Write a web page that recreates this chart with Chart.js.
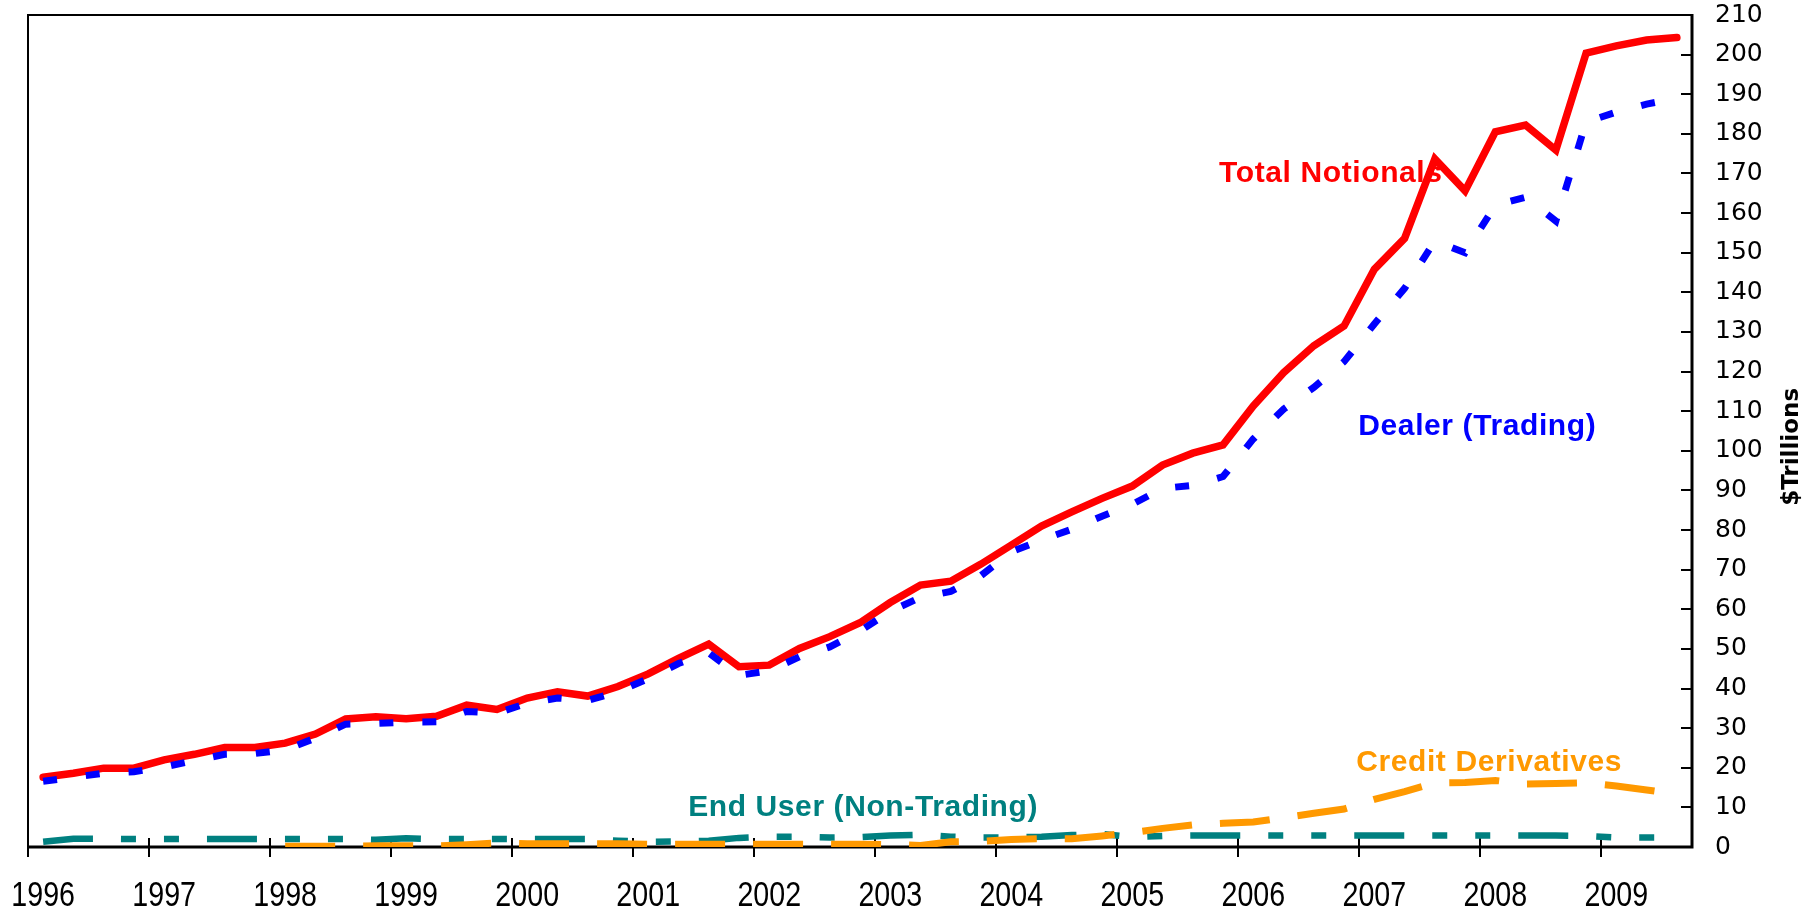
<!DOCTYPE html>
<html>
<head>
<meta charset="utf-8">
<title>Notional amounts of derivatives</title>
<script src="https://cdn.jsdelivr.net/npm/chart.js@4.4.1/dist/chart.umd.min.js"></script>
<style>
  html, body { margin: 0; padding: 0; background: #fff; }
  #wrap { width: 1808px; height: 908px; }
</style>
</head>
<body>
<div id="wrap"><canvas id="chart"></canvas></div>
<script>
// ============================================================
// Notionals by quarter, 1996 Q1 - 2009 Q3 ($ trillions)
// ============================================================

// ===== Categories / ticks =====
const years = [1996, 1997, 1998, 1999, 2000, 2001, 2002, 2003, 2004, 2005, 2006, 2007, 2008, 2009];
const quarters = ["Q1", "Q2", "Q3", "Q4"];
const lastYearQuarters = 3; // 2009 stops at Q3
const yTicks = [0, 10, 20, 30, 40, 50, 60, 70, 80, 90, 100, 110, 120, 130, 140, 150, 160, 170, 180, 190, 200, 210];

// ===== Series (one value per quarter) =====
const totalNotionals = [
  17.6, 18.6, 19.9, 19.9,
  22.0, 23.4, 25.1, 25.1,
  26.2, 28.5, 32.3, 32.9,
  32.4, 33.0, 35.8, 34.7,
  37.6, 39.2, 38.1, 40.5,
  43.7, 47.6, 51.2, 45.5,
  45.9, 50.1, 53.1, 56.6,
  61.7, 66.1, 67.1, 71.4,
  76.2, 81.0, 84.6, 88.0,
  91.1, 96.4, 99.4, 101.5,
  111.3, 119.7, 126.5, 131.5,
  145.8, 153.6, 173.7, 165.6,
  180.5, 182.2, 175.9, 200.4,
  202.2, 203.7, 204.3,
];

const dealerTrading = [
  16.6, 17.6, 18.6, 19.0,
  20.2, 21.8, 23.4, 23.6,
  24.5, 27.5, 31.0, 31.2,
  31.5, 31.6, 34.2, 33.8,
  36.3, 37.6, 37.0, 39.2,
  42.5, 46.3, 49.0, 43.3,
  44.5, 48.0, 50.5, 54.5,
  59.5, 63.0, 64.5, 68.5,
  74.5, 77.5, 80.2, 83.5,
  86.5, 90.5, 91.3, 93.5,
  103.0, 110.5, 116.0, 122.5,
  132.0, 141.0, 153.0, 150.0,
  162.0, 164.0, 158.0, 183.0,
  185.5, 187.5, 189.0,
];

const endUser = [
  1.3, 2.1, 2.1, 2.0,
  2.0, 2.0, 2.0, 2.0,
  2.0, 2.0, 2.0, 1.8,
  2.2, 2.0, 2.0, 2.0,
  2.0, 2.0, 2.0, 1.6,
  1.3, 1.4, 1.6, 2.3,
  2.6, 2.6, 2.4, 2.5,
  2.9, 3.1, 2.6, 2.4,
  2.4, 2.6, 3.0, 3.3,
  2.5, 2.8, 2.9, 2.9,
  2.9, 2.9, 2.9, 2.9,
  2.9, 2.9, 2.9, 2.9,
  2.9, 2.9, 2.9, 2.8,
  2.4, 2.4, 2.4,
];

// credit derivatives are only reported from 1998
const creditDerivatives = [
  null, null, null, null,
  null, null, null, null,
  0.2, 0.2, 0.2, 0.3,
  0.3, 0.3, 0.6, 1.0,
  0.8, 0.8, 0.8, 0.8,
  0.7, 0.7, 0.7, 0.7,
  0.7, 0.7, 0.7, 0.7,
  0.6, 0.4, 1.3, 1.4,
  1.9, 2.1, 2.1, 2.8,
  3.6, 4.7, 5.6, 6.0,
  6.3, 7.4, 8.5, 9.6,
  12.0, 14.0, 16.2, 16.3,
  16.8, 15.9, 16.0, 16.2,
  15.4, 14.4, 13.3,
];

// ===== Labels on the plot (anchored in data units: category index, value) =====
const seriesLabels = [
  { text: "Total Notionals", color: "#FF0000", at: [38.87, 167.8] },
  { text: "Dealer (Trading)", color: "#0000FF", at: [43.47, 104.0] },
  { text: "Credit Derivatives", color: "#FF9900", at: [43.4, 19.2] },
  { text: "End User (Non-Trading)", color: "#008080", at: [21.32, 7.8] },
];

// ===== Build categories =====
const categories = [];
years.forEach((y, yi) => {
  const n = yi === years.length - 1 ? lastYearQuarters : quarters.length;
  for (let q = 0; q < n; q++) categories.push(y + " " + quarters[q]);
});

// ===== Frame, tick marks, year labels, title and series labels =====
const framePlugin = {
  id: "frame",
  beforeDatasetsDraw(chart) {
    const { ctx, chartArea: a, scales } = chart;
    const x = scales.x;
    const y = scales.y;
    ctx.save();
    ctx.strokeStyle = "#000";
    ctx.lineCap = "butt";

    // left and top border
    ctx.lineWidth = 2;
    ctx.beginPath();
    ctx.moveTo(a.left, a.bottom);
    ctx.lineTo(a.left, a.top);
    ctx.lineTo(a.right, a.top);
    ctx.stroke();

    // y tick marks, pointing into the plot
    ctx.beginPath();
    yTicks.forEach((v) => {
      const py = Math.round(y.getPixelForValue(v));
      ctx.moveTo(a.right - 11, py);
      ctx.lineTo(a.right, py);
    });
    ctx.stroke();

    // x tick marks at the start of each year, crossing the axis
    const half = (x.getPixelForValue(1) - x.getPixelForValue(0)) / 2;
    ctx.beginPath();
    categories.forEach((c, i) => {
      if (i % 4 !== 0) return;
      const px = Math.round(x.getPixelForValue(i) - half);
      ctx.moveTo(px, a.bottom - 9);
      ctx.lineTo(px, a.bottom + 10);
    });
    ctx.stroke();

    // right and bottom axis lines
    ctx.lineWidth = 3;
    ctx.beginPath();
    ctx.moveTo(a.left, a.bottom);
    ctx.lineTo(a.right, a.bottom);
    ctx.lineTo(a.right, a.top - 1);
    ctx.stroke();

    // year labels under the first quarter of each year (narrow face)
    ctx.fillStyle = "#000";
    ctx.font = "34.5px 'Liberation Sans', Arial, sans-serif";
    ctx.textAlign = "center";
    ctx.textBaseline = "alphabetic";
    categories.forEach((c, i) => {
      if (i % 4 !== 0) return;
      ctx.save();
      ctx.translate(x.getPixelForValue(i), a.bottom + 59);
      ctx.scale(0.83, 1);
      ctx.fillText(String(years[i / 4]), 0, 0);
      ctx.restore();
    });
    ctx.restore();
  },
  afterDatasetsDraw(chart) {
    const { ctx, chartArea: a, scales } = chart;
    ctx.save();
    ctx.font = "bold 30px 'Liberation Sans', Arial, sans-serif";
    ctx.textAlign = "left";
    ctx.textBaseline = "alphabetic";
    if ("letterSpacing" in ctx) ctx.letterSpacing = "0.6px";
    seriesLabels.forEach((l) => {
      ctx.fillStyle = l.color;
      ctx.fillText(l.text, scales.x.getPixelForValue(l.at[0]), scales.y.getPixelForValue(l.at[1]));
    });
    if ("letterSpacing" in ctx) ctx.letterSpacing = "0px";

    // axis title, reading bottom to top
    ctx.fillStyle = "#000";
    ctx.font = "bold 23px 'DejaVu Sans', Verdana, sans-serif";
    ctx.textAlign = "center";
    ctx.textBaseline = "middle";
    ctx.translate(a.right + 100, scales.y.getPixelForValue(101));
    ctx.rotate(-Math.PI / 2);
    ctx.fillText("$Trillions", 0, 0);
    ctx.restore();
  },
};

const ctx = document.getElementById("chart").getContext("2d");
const chart = new Chart(ctx, {
  type: "line",
  data: {
    labels: categories,
    datasets: [
      {
        label: "Dealer (Trading)",
        data: dealerTrading,
        borderColor: "#0000FF",
        borderWidth: 7,
        borderDash: [14, 29],
        order: 0,
      },
      {
        label: "Credit Derivatives",
        data: creditDerivatives,
        borderColor: "#FF9900",
        borderWidth: 7,
        borderDash: [50, 28],
        order: 1,
      },
      {
        label: "End User (Non-Trading)",
        data: endUser,
        borderColor: "#008080",
        borderWidth: 6.5,
        borderDash: [50, 28, 15, 28, 15, 28],
        order: 2,
      },
      {
        label: "Total Notionals",
        data: totalNotionals,
        borderColor: "#FF0000",
        borderWidth: 7.5,
        borderCapStyle: "round",
        order: 3,
      },
    ],
  },
  options: {
    responsive: true,
    maintainAspectRatio: false,
    animation: false,
    layout: { autoPadding: false, padding: { left: 28, top: 15, right: 0, bottom: 0 } },
    elements: {
      point: { radius: 0, hoverRadius: 0 },
      line: { tension: 0, fill: false },
    },
    scales: {
      x: {
        type: "category",
        offset: true,
        grid: { display: false, drawTicks: false },
        border: { display: false },
        ticks: { display: false },
        afterFit: (scale) => {
          scale.height = 61;
          scale.paddingLeft = 0;
          scale.paddingRight = 0;
        },
      },
      y: {
        position: "right",
        min: 0,
        max: 210,
        grid: { display: false, drawTicks: false },
        border: { display: false },
        ticks: {
          stepSize: 10,
          padding: 23,
          color: "#000",
          font: { family: "'DejaVu Sans', Verdana, sans-serif", size: 25 },
        },
        afterFit: (scale) => {
          scale.width = 116;
          scale.paddingTop = 0;
          scale.paddingBottom = 0;
        },
      },
    },
    plugins: {
      legend: { display: false },
      tooltip: { enabled: false },
    },
  },
  plugins: [framePlugin],
});
</script>
</body>
</html>
